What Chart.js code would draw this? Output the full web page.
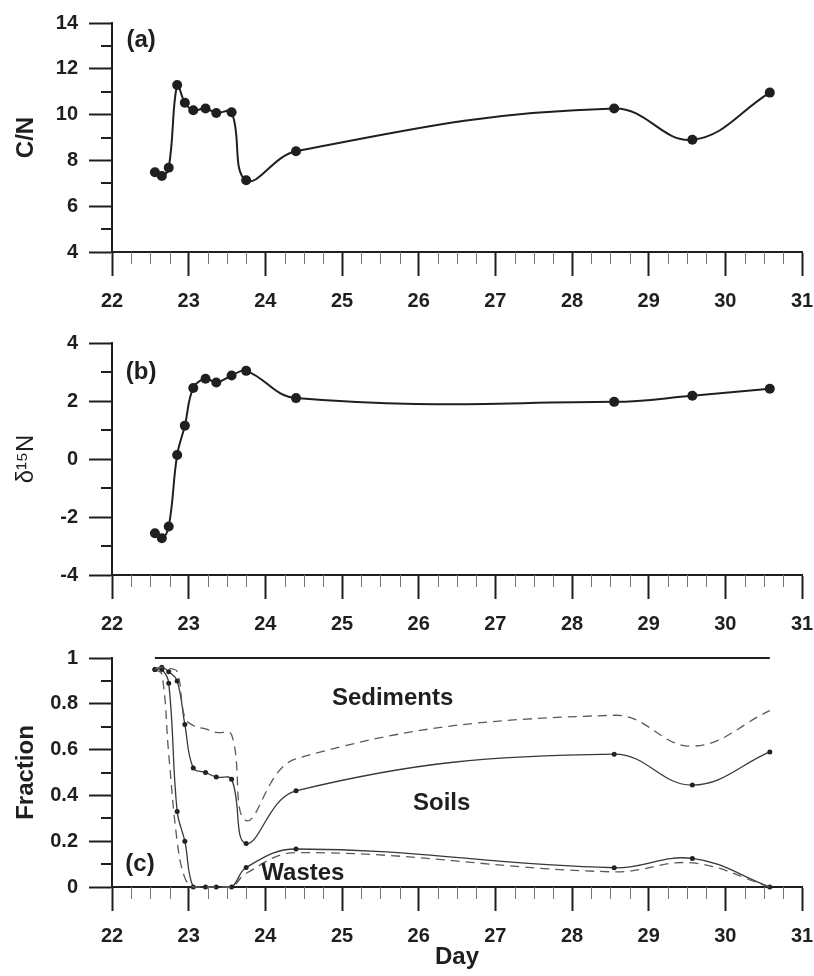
<!DOCTYPE html>
<html>
<head>
<meta charset="utf-8">
<script src="https://cdn.jsdelivr.net/npm/chart.js@4.4.1/dist/chart.umd.min.js"></script>
<style>
  html, body { margin: 0; padding: 0; background: #fff; }
  #wrap { position: relative; width: 814px; height: 976px; }
  canvas { position: absolute; left: 0; }
</style>
</head>
<body>
<div id="wrap">
  <canvas id="panel-a" width="814" height="322" style="top:0px"></canvas>
  <canvas id="panel-b" width="814" height="322" style="top:322px"></canvas>
  <canvas id="panel-c" width="814" height="332" style="top:644px"></canvas>
</div>
<script>
// --- dados ---
const days = [22.56, 22.65, 22.74, 22.85, 22.95, 23.06, 23.22, 23.36, 23.56, 23.75, 24.40, 28.55, 29.57, 30.58];
const cnRatio = [7.48, 7.32, 7.68, 11.29, 10.52, 10.19, 10.27, 10.07, 10.10, 7.13, 8.40, 10.27, 8.90, 10.96];
const d15N = [-2.56, -2.73, -2.33, 0.14, 1.15, 2.45, 2.77, 2.64, 2.88, 3.04, 2.10, 1.97, 2.18, 2.42];
// fracções acumuladas (c)
const sedSoilSolid = [0.95, 0.96, 0.94, 0.90, 0.71, 0.52, 0.50, 0.48, 0.47, 0.19, 0.42, 0.58, 0.445, 0.59];
const sedSoilDashed = [0.95, 0.96, 0.955, 0.94, 0.74, 0.705, 0.69, 0.675, 0.665, 0.29, 0.56, 0.75, 0.615, 0.77];
const soilWasteSolid = [0.95, 0.95, 0.89, 0.33, 0.20, 0, 0, 0, 0, 0.085, 0.166, 0.084, 0.125, 0];
const soilWasteDashed = [0.95, 0.93, 0.58, 0.20, 0.04, 0, 0, 0, 0, 0.06, 0.15, 0.066, 0.105, 0];
const totalFraction = [1, 1];

const panelLetters = ["(a)", "(b)", "(c)"];
const regionNames = ["Sediments", "Soils", "Wastes"];

Chart.defaults.font.family = '"Liberation Sans", Arial, Helvetica, sans-serif';
Chart.defaults.color = '#222';
const INK = '#1f1f1f';

const pts = (ys) => ys.map((y, i) => ({ x: days[i], y }));

// minor ticks: x every 0.25 day, y at half steps
const minorTicks = {
  id: 'minorTicks',
  afterDraw(chart, args, opts) {
    const { ctx } = chart;
    const xs = chart.scales.x, ys = chart.scales.y;
    ctx.save();
    ctx.strokeStyle = '#777';
    ctx.lineWidth = 1;
    ctx.beginPath();
    for (let i = 1; i < (xs.max - xs.min) * 4; i++) {
      if (i % 4 === 0) continue;
      const px = Math.round(xs.getPixelForValue(xs.min + i / 4)) + 0.5;
      ctx.moveTo(px, xs.top);
      ctx.lineTo(px, xs.top + 12);
    }
    ctx.stroke();
    ctx.strokeStyle = INK;
    ctx.lineWidth = 2;
    ctx.beginPath();
    const n = Math.round((ys.max - ys.min) / opts.step);
    for (let i = 1; i < n; i += 2) {
      const py = Math.round(ys.getPixelForValue(ys.min + i * opts.step));
      ctx.moveTo(ys.right, py);
      ctx.lineTo(ys.right - 11, py);
    }
    ctx.stroke();
    ctx.restore();
  }
};

// textos dentro do gráfico
const panelText = {
  id: 'panelText',
  afterDatasetsDraw(chart, args, opts) {
    const { ctx } = chart;
    const xs = chart.scales.x, ys = chart.scales.y;
    ctx.save();
    ctx.fillStyle = INK;
    ctx.textAlign = 'center';
    ctx.textBaseline = 'alphabetic';
    (opts.items || []).forEach(it => {
      ctx.font = it.font;
      ctx.fillText(it.text, xs.getPixelForValue(it.x), ys.getPixelForValue(it.y));
    });
    ctx.restore();
  }
};

const tickFont = { size: 20, weight: 'bold' };
const labelFont = 'bold 24px "Liberation Sans", Arial, sans-serif';

function panel(id, o) {
  return new Chart(document.getElementById(id), {
    type: 'line',
    data: { datasets: o.datasets },
    options: {
      responsive: false,
      animation: false,
      layout: { padding: { top: o.padTop, right: 12, left: 0, bottom: 0 } },
      plugins: {
        legend: { display: false },
        tooltip: { enabled: false },
        minorTicks: { step: o.minor },
        panelText: { items: o.text }
      },
      scales: {
        x: {
          type: 'linear', min: 22, max: 31,
          afterFit: s => { s.height = o.xHeight; s.paddingLeft = 0; s.paddingRight = 0; },
          ticks: { stepSize: 1, padding: 13, font: tickFont, color: INK },
          grid: { drawOnChartArea: false, tickLength: 24, tickWidth: 2, tickColor: INK },
          border: { color: INK, width: 2 },
          title: o.xTitle
            ? { display: true, text: o.xTitle, color: INK, font: { size: 24, weight: 'bold' }, padding: { top: 0, bottom: 4 } }
            : { display: false }
        },
        y: {
          type: 'linear', min: o.yMin, max: o.yMax,
          afterFit: s => { s.width = 112; s.paddingTop = 0; s.paddingBottom = 0; },
          ticks: { stepSize: o.yStep, padding: 11, font: tickFont, color: INK,
                   callback: v => String(+v.toFixed(1)) },
          grid: { drawOnChartArea: false, tickLength: 23, tickWidth: 2, tickColor: INK },
          border: { color: INK, width: 2 },
          title: { display: true, text: o.yTitle, color: INK, font: o.yTitleFont, padding: { top: 12, bottom: 0 } }
        }
      }
    },
    plugins: [minorTicks, panelText]
  });
}

const markerLine = (ys) => ({
  data: pts(ys), borderColor: INK, backgroundColor: INK, borderWidth: 2,
  pointRadius: 5, pointBorderWidth: 0, tension: 0.4, clip: 8
});

// (a) C/N
panel('panel-a', {
  padTop: 23, xHeight: 70, yMin: 4, yMax: 14, yStep: 2, minor: 1,
  yTitle: 'C/N', yTitleFont: { size: 24, weight: 'bold' },
  datasets: [markerLine(cnRatio)],
  text: [{ text: panelLetters[0], x: 22.38, y: 12.94, font: labelFont }]
});

// (b) d15N
panel('panel-b', {
  padTop: 21, xHeight: 69, yMin: -4, yMax: 4, yStep: 2, minor: 1,
  yTitle: 'δ¹⁵N', yTitleFont: { size: 24, weight: 'normal' },
  datasets: [markerLine(d15N)],
  text: [{ text: panelLetters[1], x: 22.38, y: 2.77, font: labelFont }]
});

// (c) fracções
const solid = (ys) => ({
  data: pts(ys), borderColor: '#383838', backgroundColor: '#222', borderWidth: 1.3,
  pointRadius: 2.5, pointBorderWidth: 0, tension: 0.4, clip: 8
});
const dashed = (ys) => ({
  data: pts(ys), borderColor: '#5a5a5a', borderWidth: 1.3, borderDash: [9, 6],
  pointRadius: 0, tension: 0.4, clip: 8
});

panel('panel-c', {
  padTop: 14, xHeight: 89, yMin: 0, yMax: 1, yStep: 0.2, minor: 0.1,
  yTitle: 'Fraction', yTitleFont: { size: 24, weight: 'bold' }, xTitle: 'Day',
  datasets: [
    { data: [{ x: days[0], y: totalFraction[0] }, { x: days[days.length - 1], y: totalFraction[1] }],
      borderColor: INK, borderWidth: 2, pointRadius: 0, clip: 8 },
    dashed(sedSoilDashed),
    solid(sedSoilSolid),
    dashed(soilWasteDashed),
    solid(soilWasteSolid)
  ],
  text: [
    { text: panelLetters[2], x: 22.365, y: 0.07, font: labelFont },
    { text: regionNames[0], x: 25.66, y: 0.795, font: labelFont },
    { text: regionNames[1], x: 26.30, y: 0.336, font: labelFont },
    { text: regionNames[2], x: 24.49, y: 0.031, font: labelFont }
  ]
});
</script>
</body>
</html>
